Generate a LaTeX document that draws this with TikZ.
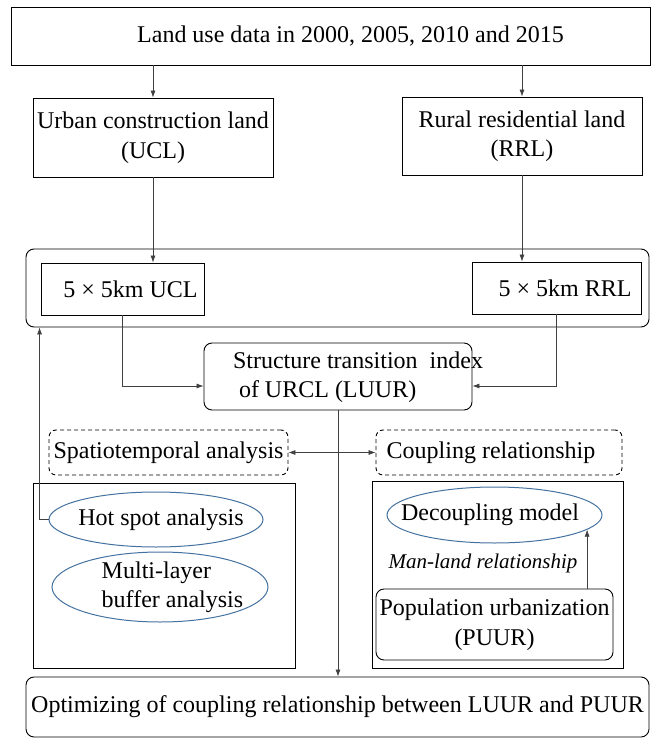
\documentclass[tikz,border=0pt]{standalone}
\usepackage{fontspec}
\setmainfont{Liberation Serif}
\usetikzlibrary{shapes.geometric, arrows.meta}

\definecolor{ellblue}{RGB}{68,114,160}
\tikzset{
	box/.style = {draw, line width = .9pt, inner sep = 0pt, align = center},
	rbox/.style = {box, rounded corners = 8pt},
	dbox/.style = {draw, line width = .9pt, dash pattern = on 4pt off 3pt, rounded corners = 7pt, inner sep = 0pt},
	ell/.style = {draw = ellblue, ellipse, line width = 1pt, inner sep = 0pt},
	arr/.style = {draw = black!75, line width = .6pt, ->},
	darr/.style = {arr, <->},
}

\begin{document}
\begin{tikzpicture}[x = 1pt, y = -1pt, font = \fontsize{24}{29.5}\selectfont, > = {Latex[length = 7pt, width = 5pt]}]
		\useasboundingbox (0,0) rectangle (651,738);
		
		\node (top) at (330.5,36) [box, minimum width = 639pt, minimum height = 58pt] {\hspace*{40pt}Land use data in 2000, 2005, 2010 and 2015};
		\node (ucl) at (153,137.5) [box, minimum width = 240pt, minimum height = 79pt] {Urban construction land\\(UCL)};
		\node (rrl) at (522,136) [box, minimum width = 240pt, minimum height = 78pt] {Rural residential land\\(RRL)};
		
		\node (grid) at (337.5,288) [rbox, minimum width = 623pt, minimum height = 78pt] {};
		\node (ucl5) at (122.5,289) [box, minimum width = 163pt, minimum height = 52pt] {\hspace*{16pt}5 × 5km UCL};
		\node (rrl5) at (556.5,288) [box, minimum width = 169pt, minimum height = 52pt] {\hspace*{17pt}5 × 5km RRL};
		
		\node (luur) at (338,376.5) [rbox, minimum width = 268pt, minimum height = 67pt] {};
		\node (luurtxt) at (358,377) [align = left] {Structure transition\ \ index\\\hspace*{6pt}of URCL (LUUR)};
		
		\node (spat) at (168.5,452.5) [dbox, minimum width = 239pt, minimum height = 45pt] {Spatiotemporal analysis};
		\node (coup) at (499,452.5) [dbox, minimum width = 246pt, minimum height = 45pt] {Coupling relationship\hspace*{16pt}};
		
		\node (spatbox) at (164,575.5) [box, minimum width = 262pt, minimum height = 185pt] {};
		\node (hot) at (156,519.5) [ell, minimum width = 214pt, minimum height = 55pt] {};
		\node (hottxt) at (161,519.5) {Hot spot analysis};
		\node (multi) at (160,587) [ell, minimum width = 216pt, minimum height = 70pt] {};
		\node (multitxt) at (172.5,587.5) [align = left] {Multi-layer\\buffer analysis};
		
		\node (coupbox) at (497.5,574.5) [box, minimum width = 251pt, minimum height = 187pt] {};
		\node (dec) at (494.5,515) [ell, minimum width = 215pt, minimum height = 56pt] {};
		\node (dectxt) at (490,515) {Decoupling model};
		\node (manland) at (483,563) [font = \fontsize{21}{25}\selectfont\itshape] {Man-land relationship};
		\node (pop) at (494.5,624.5) [rbox, minimum width = 237pt, minimum height = 71pt] {Population urbanization\\(PUUR)};
		
		\node (final) at (337.5,707) [rbox, minimum width = 623pt, minimum height = 60pt] {Optimizing of coupling relationship between LUUR and PUUR};
		
		\draw [arr] (top.south -| ucl.north) -- (ucl.north);
		\draw [arr] (top.south -| rrl.north) -- (rrl.north);
		\draw [arr] (ucl.south) -- (ucl.south |- ucl5.north);
		\draw [arr] (rrl.south) -- (rrl.south |- rrl5.north);
		\draw [arr] (ucl5.south) |- ([yshift = -9.5pt]luur.west);
		\draw [arr] (rrl5.south) |- ([yshift = -9.5pt]luur.east);
		\draw [arr] (luur.south) -- (luur.south |- final.north);
		\draw [darr] (spat.east) -- (coup.west);
		\draw [arr] (hot.west) -| ([xshift = 14pt]grid.south west);
		\draw [arr] (pop.north -| dec.-9) -- (dec.-9);
\end{tikzpicture}
\end{document}
